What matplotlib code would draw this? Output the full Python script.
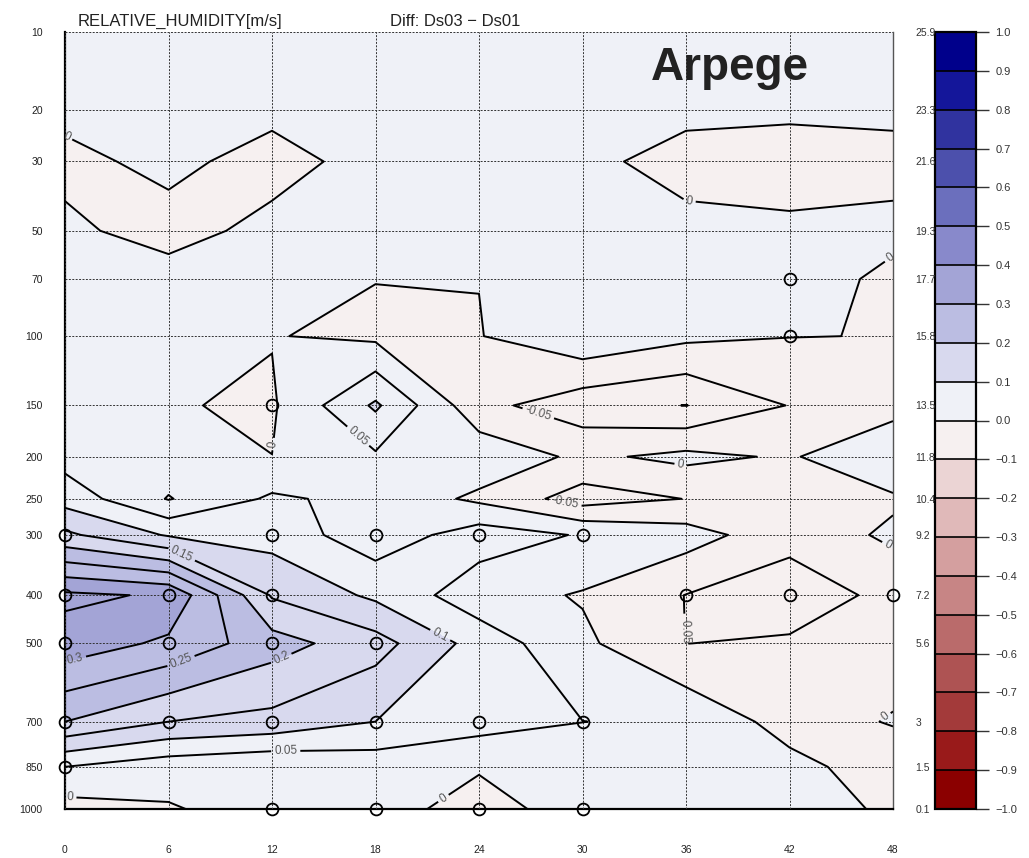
import numpy as np
import matplotlib
matplotlib.use("Agg")
import matplotlib.pyplot as plt
from matplotlib.colors import ListedColormap, BoundaryNorm

plt.rcParams['font.family'] = ['Liberation Sans', 'DejaVu Sans']

# forecast range (h) and model levels
hours = [0, 6, 12, 18, 24, 30, 36, 42, 48]
pressure = [10, 20, 30, 50, 70, 100, 150, 200, 250, 300, 400, 500, 700, 850, 1000]
height_km = [25.9, 23.3, 21.6, 19.3, 17.7, 15.8, 13.5, 11.8, 10.4, 9.2, 7.2, 5.6, 3.0, 1.5, 0.1]
height_labels = ["25.9", "23.3", "21.6", "19.3", "17.7", "15.8", "13.5", "11.8",
                 "10.4", "9.2", "7.2", "5.6", "3", "1.5", "0.1"]

# Ds03 - Ds01, one row per pressure level (top to bottom)
diff = [
    [0.02, 0.02, 0.02, 0.02, 0.02, 0.02, 0.02, 0.02, 0.02],              # 10
    [0.02, 0.02, 0.02, 0.02, 0.02, 0.02, 0.02, 0.015, 0.02],             # 20
    [-0.02, 0.02, -0.03, 0.03, 0.02, 0.02, -0.03, -0.04, -0.03],         # 30
    [0.015, -0.029, 0.023, 0.03, 0.03, 0.03, 0.023, 0.016, 0.023],       # 50
    [0.03, 0.031, 0.03, 0.001, 0.0007, 0.03, 0.03, 0.045, -0.021],       # 70
    [0.03, 0.03, 0.002, -0.01, -0.002, 0.04, 0.011, 0.001, -0.001],      # 100
    [0.03, 0.003, -0.006, 0.108, -0.035, -0.08, -0.101, -0.048, -0.022], # 150
    [0.03, 0.03, 0.0003, 0.043, 0.033, -0.01, 0.013, -0.006, 0.05],      # 200
    [0.08, -0.003, 0.058, 0.035, -0.01, -0.0725, -0.049, -0.03, -0.008], # 250
    [0.16, 0.095, 0.08, 0.02, 0.075, 0.046, 0.022, -0.032, 0.0096],      # 300
    [0.36, 0.344, 0.145, 0.09, 0.02, -0.004, -0.051, -0.08, -0.035],     # 400
    [0.33, 0.29, 0.221, 0.17, 0.08, 0.01, -0.0505, -0.043, -0.02],       # 500
    [0.2, 0.15, 0.135, 0.1, 0.07, 0.0505, 0.04, -0.02, 0.003],           # 700
    [0.05, 0.02, 0.005, 0.02, 0.007, 0.02, 0.02, 0.015, -0.0255],        # 850
    [-0.02, -0.004, 0.02, 0.03, -0.03, 0.034, 0.03, 0.02, -0.007],       # 1000
]

# points flagged as significant (open circles)
sig_hours = [0, 0, 0, 0, 0, 6, 6, 6, 12, 12, 12, 12, 12, 12,
             18, 18, 18, 18, 24, 24, 24, 30, 30, 30, 36, 42, 42, 42, 48]
sig_press = [300, 400, 500, 700, 850, 400, 500, 700, 150, 300, 400, 500, 700, 1000,
             300, 500, 700, 1000, 300, 700, 1000, 300, 700, 1000, 400, 70, 100, 400, 400]

# colour table, -1.0 .. 1.0 by 0.1
cbar_colors = ["#8b0000", "#991a1a", "#a33a3a", "#ae5353", "#ba6b6b", "#c78585",
               "#d49f9f", "#e0b9b9", "#ebd4d4", "#f6f0f0",
               "#eff1f7", "#d8d9ee", "#bbbde2", "#a3a4d6", "#8889cb", "#6b6fbd",
               "#4c50ac", "#30339f", "#14169a", "#00008b"]

fill_levels = np.round(np.linspace(-1, 1, 21), 2)
line_levels = np.round(np.linspace(-1, 1, 41), 2)

# label spots (hour, km) picked from the original plot
label_spots = [(0.2, 22.55), (36.2, 20.3), (47.7, 18.5), (12.3, 12.2), (16.8, 12.35),
               (27.5, 13.35), (35.7, 11.56), (29.0, 10.26), (47.7, 8.87), (6.7, 8.47),
               (36.0, 6.04), (0.6, 5.05), (6.7, 5.05), (12.5, 5.15), (21.6, 5.71),
               (12.8, 1.89), (0.3, 0.5), (22.0, 0.4), (47.7, 3.06)]

z = np.array(diff)
p2h = dict(zip(pressure, height_km))
sig_km = [p2h[p] for p in sig_press]

cmap = ListedColormap(cbar_colors)
norm = BoundaryNorm(fill_levels, cmap.N)

W, H = 1029, 858
fig = plt.figure(figsize=(W / 100, H / 100), dpi=100)
ax = fig.add_axes([65 / W, 1 - 809 / H, 828 / W, 777 / H])
cax = fig.add_axes([935 / W, 1 - 809 / H, 41 / W, 777 / H])

cf = ax.contourf(hours, height_km, z, levels=fill_levels, cmap=cmap, norm=norm, zorder=1)
cs = ax.contour(hours, height_km, z, levels=line_levels, colors="black",
                linewidths=1.4, linestyles="solid", zorder=3)


def fmt(v):
    v = round(v, 2)
    if v == 0:
        return "0"
    return f"{v:g}"


lbls = ax.clabel(cs, fmt=fmt, fontsize=8.5, colors="#555555", inline=True,
                 inline_spacing=3, manual=label_spots)

ax.plot(sig_hours, sig_km, "o", mfc="none", mec="black", ms=8.5, mew=1.3,
        clip_on=False, zorder=5)

ax.set_xlim(0, 48)
ax.set_ylim(0.1, 25.9)
ax.set_xticks(hours)
ax.set_xticklabels([str(h) for h in hours])
ax.set_yticks(height_km)
ax.set_yticklabels([str(p) for p in pressure])
ax.tick_params(axis="both", length=0, labelsize=7.5, colors="#222222")
ax.tick_params(axis="y", pad=16)
ax.tick_params(axis="x", pad=26)
ax.set_axisbelow(False)
ax.grid(True, color="#333333", linestyle=(0, (2.0, 1.5)), linewidth=0.7)
ax.spines["top"].set_visible(False)
for s in ["left", "bottom"]:
    ax.spines[s].set_linewidth(1.6)
ax.spines["right"].set_linewidth(1.0)
ax.spines["right"].set_color("#555555")

ax2 = ax.twinx()
ax2.set_ylim(ax.get_ylim())
ax2.set_yticks(height_km)
ax2.set_yticklabels(height_labels)
ax2.tick_params(axis="y", length=0, labelsize=7.5, colors="#333333", pad=16)
for s in ax2.spines.values():
    s.set_visible(False)

cb = fig.colorbar(cf, cax=cax, ticks=fill_levels, drawedges=True)
cb.outline.set_linewidth(1.6)
cb.dividers.set_linewidth(1.2)
cb.ax.set_yticklabels([f"{v:.1f}".replace("-", "\u2212") for v in fill_levels])
cb.ax.tick_params(length=9, width=1.0, labelsize=8, colors="#333333", pad=5)

fig.text(78 / W, 1 - 26 / H, "RELATIVE_HUMIDITY[m/s]", fontsize=12, color="#222222",
         va="baseline")
fig.text(390 / W, 1 - 26 / H, "Diff: Ds03 \u2212 Ds01", fontsize=12, color="#222222",
         va="baseline")
fig.text(651 / W, 1 - 80 / H, "Arpege", fontsize=33, fontweight="bold", color="#222222",
         va="baseline")

fig.savefig("out.png", dpi=100)
